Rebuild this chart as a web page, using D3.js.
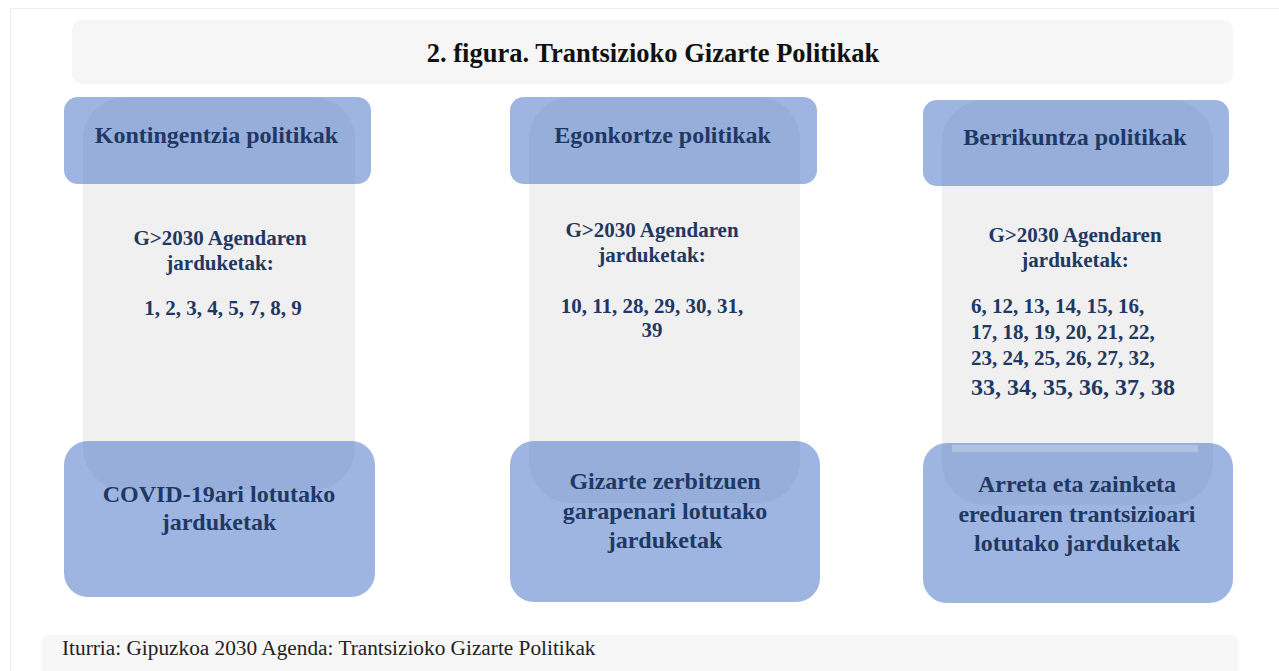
<!DOCTYPE html>
<html><head><meta charset="utf-8">
<script src="https://cdn.jsdelivr.net/npm/d3@7"></script>
<style>
html,body{margin:0;padding:0;background:#fff;}
svg{display:block;}
text{font-family:"Liberation Serif","Times New Roman",serif;}
</style></head>
<body>
<script>
// ---- data ----
const title = "2. figura. Trantsizioko Gizarte Politikak";
const headers = ["Kontingentzia politikak", "Egonkortze politikak", "Berrikuntza politikak"];
const agendaLabel = ["G>2030 Agendaren", "jarduketak:"];
const actionLines = [
  ["1, 2, 3, 4, 5, 7, 8, 9"],
  ["10, 11, 28, 29, 30, 31,", "39"],
  ["6, 12, 13, 14, 15, 16,", "17, 18, 19, 20, 21, 22,", "23, 24, 25, 26, 27, 32,", "33, 34, 35, 36, 37, 38"]
];
const footers = [
  ["COVID-19ari lotutako", "jarduketak"],
  ["Gizarte zerbitzuen", "garapenari lotutako", "jarduketak"],
  ["Arreta eta zainketa", "ereduaren trantsizioari", "lotutako jarduketak"]
];
const source = "Iturria: Gipuzkoa 2030 Agenda: Trantsizioko Gizarte Politikak";

// ---- layout (positions, not data) ----
const W = 1279, H = 671;
const layout = [
  {hx:64, hy:97, hw:307, hh:87, gx:83, gw:272, gy:97, gb:490, fx:64, fy:441, fw:311, fh:156, cx:220, agY:245, numY:315, numAnchor:"middle", numX:223, footY:502, footCx:219, footStep:28},
  {hx:510, hy:97, hw:307, hh:87, gx:529, gw:271, gy:97, gb:503, fx:510, fy:441, fw:310, fh:161, cx:652, agY:237, numY:313, numAnchor:"middle", numX:652, footY:489, footCx:665, footStep:29.5},
  {hx:923, hy:100, hw:306, hh:86, gx:942, gw:271, gy:100, gb:505, fx:923, fy:443, fw:310, fh:160, cx:1075, agY:242, numY:313, numAnchor:"start", numX:971, footY:492, footCx:1077, footStep:29.5}
];
const navy = "#1f3864";

const svg = d3.select("body").append("svg").attr("width", W).attr("height", H);

// outer frame
svg.append("rect").attr("x",10.5).attr("y",8.5).attr("width",W).attr("height",H)
  .attr("fill","#fff").attr("stroke","#ececec");

// title box
svg.append("rect").attr("x",72).attr("y",20).attr("width",1161).attr("height",64).attr("rx",10)
  .attr("fill","#f6f6f6");
svg.append("text").attr("x",653).attr("y",62).attr("text-anchor","middle")
  .attr("font-size",26.5).attr("font-weight","bold").attr("fill","#111").text(title);

const cols = svg.selectAll("g.col").data(layout).enter().append("g").attr("class","col");

// gray panels
cols.append("rect").attr("x",d=>d.gx).attr("y",d=>d.gy).attr("width",d=>d.gw)
  .attr("height",d=>d.gb-d.gy).attr("rx",42).attr("fill","#f0f0f0");

// header boxes
cols.append("rect").attr("x",d=>d.hx).attr("y",d=>d.hy).attr("width",d=>d.hw).attr("height",d=>d.hh)
  .attr("rx",14).attr("fill","#4472c4").attr("fill-opacity",0.52);
// footer boxes
cols.append("rect").attr("x",d=>d.fx).attr("y",d=>d.fy).attr("width",d=>d.fw).attr("height",d=>d.fh)
  .attr("rx",24).attr("fill","#4472c4").attr("fill-opacity",0.52);

// light strip on third footer
svg.append("rect").attr("x",952).attr("y",445).attr("width",246).attr("height",7)
  .attr("fill","#ffffff").attr("fill-opacity",0.25);

// header texts
cols.append("text").attr("x",(d)=>d.hx+d.hw/2 - 1).attr("y",(d,i)=>[143,143,145][i])
  .attr("text-anchor","middle").attr("font-size",24).attr("font-weight","bold").attr("fill",navy)
  .text((d,i)=>headers[i]);

// agenda labels, action numbers, footers
cols.each(function(d,i){
  const g = d3.select(this);
  agendaLabel.forEach((t,j)=>{
    g.append("text").attr("x",d.cx).attr("y",d.agY + j*25).attr("text-anchor","middle")
      .attr("font-size",21).attr("font-weight","bold").attr("fill",navy).text(t);
  });
  actionLines[i].forEach((t,j)=>{
    const last = (i===2 && j===3);
    g.append("text").attr("x",d.numX).attr("y",d.numY + j*(i===2? (j===3?27:26) : 24) + (last?1:0))
      .attr("text-anchor",d.numAnchor)
      .attr("font-size", last?24:21).attr("font-weight","bold").attr("fill",navy).text(t);
  });
  footers[i].forEach((t,j)=>{
    g.append("text").attr("x",d.footCx).attr("y",d.footY + j*d.footStep).attr("text-anchor","middle")
      .attr("font-size",24).attr("font-weight","bold").attr("fill",navy).text(t);
  });
});

// source box
svg.append("rect").attr("x",42).attr("y",635).attr("width",1196).attr("height",50).attr("rx",6)
  .attr("fill","#f7f7f7");
svg.append("text").attr("x",62).attr("y",655).attr("font-size",21.3).attr("fill","#222").text(source);
</script>
</body></html>
